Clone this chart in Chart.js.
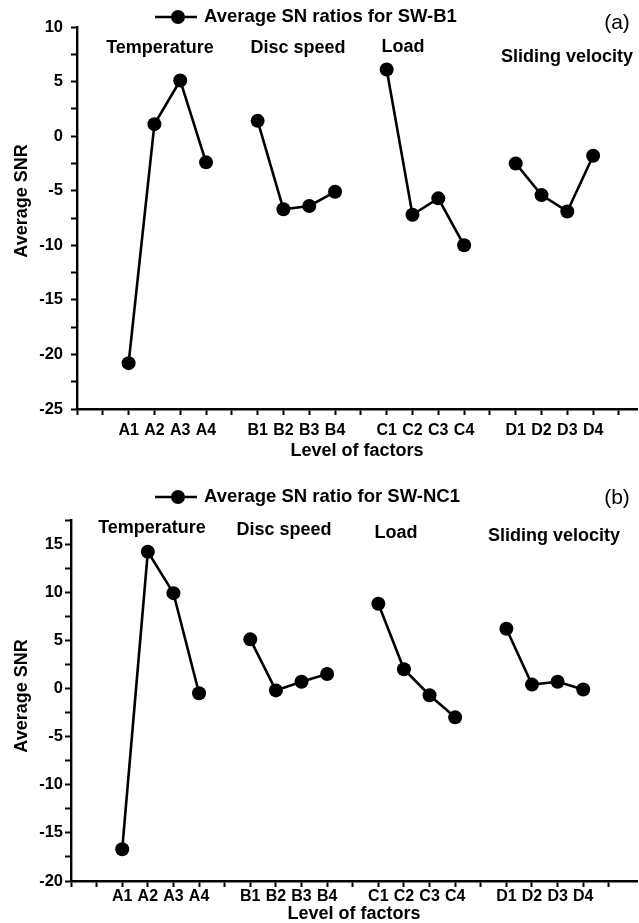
<!DOCTYPE html>
<html>
<head>
<meta charset="utf-8">
<script src="https://cdn.jsdelivr.net/npm/chart.js@4.4.1/dist/chart.umd.min.js"></script>
<style>
  html, body { margin: 0; padding: 0; background: #fff; }
  .panel { position: absolute; left: 0; width: 639px; }
  #panel-a { top: 0; height: 460px; }
  #panel-b { top: 460px; height: 463px; }
</style>
</head>
<body>
<div class="panel" id="panel-a"><canvas id="chart-a"></canvas></div>
<div class="panel" id="panel-b"><canvas id="chart-b"></canvas></div>
<script>
const factors = ['Temperature', 'Disc speed', 'Load', 'Sliding velocity'];
const levels = [
    ['A1', 'A2', 'A3', 'A4'],
    ['B1', 'B2', 'B3', 'B4'],
    ['C1', 'C2', 'C3', 'C4'],
    ['D1', 'D2', 'D3', 'D4']
];

// average SN ratio of every level, one row per factor
const snrB1 = [
    [-20.8, 1.1, 5.1, -2.4],
    [1.4, -6.7, -6.4, -5.1],
    [6.1, -7.2, -5.7, -10.0],
    [-2.5, -5.4, -6.9, -1.8]
];
const snrNC1 = [
    [-16.7, 14.2, 9.9, -0.5],
    [5.1, -0.2, 0.7, 1.5],
    [8.8, 2.0, -0.7, -3.0],
    [6.2, 0.4, 0.7, -0.1]
];

const yTicksB1 = [-25, -20, -15, -10, -5, 0, 5, 10];
const yTicksNC1 = [-20, -15, -10, -5, 0, 5, 10, 15];

const FONT = '"Liberation Sans", Arial, sans-serif';

// each factor gets 4 slots on the x axis, one empty slot between factors
const slot = (g, i) => g * 5 + i + 2;
const slotLabels = new Array(22).fill('');
levels.forEach((lv, g) => lv.forEach((l, i) => { slotLabels[slot(g, i)] = l; }));

const panelText = {
    id: 'panelText',
    afterDraw(chart, args, opts) {
        const ctx = chart.ctx;
        ctx.save();
        ctx.fillStyle = '#000';
        ctx.strokeStyle = '#000';
        const lg = opts.legend;
        ctx.lineWidth = 2.6;
        ctx.beginPath();
        ctx.moveTo(lg.x, lg.y);
        ctx.lineTo(lg.x + 42, lg.y);
        ctx.stroke();
        ctx.beginPath();
        ctx.arc(lg.x + 23, lg.y, 7, 0, Math.PI * 2);
        ctx.fill();
        ctx.textBaseline = 'middle';
        ctx.textAlign = 'left';
        ctx.font = 'bold 18.5px ' + FONT;
        ctx.fillText(lg.text, lg.x + 49, lg.y);

        ctx.textAlign = 'center';
        ctx.font = 'bold 18px ' + FONT;
        opts.groups.forEach((p, g) => ctx.fillText(factors[g], p[0], p[1]));

        ctx.font = '21px ' + FONT;
        ctx.fillText(opts.letter.text, opts.letter.x, opts.letter.y);

        // y axis title
        ctx.font = 'bold 18px ' + FONT;
        ctx.translate(opts.yTitle.x, opts.yTitle.y);
        ctx.rotate(-Math.PI / 2);
        ctx.fillText('Average SNR', 0, 0);
        ctx.restore();
    }
};

function makeChart(id, values, yTicks, label, cfg) {
    const datasets = values.map((row, g) => ({
        label: label,
        data: row.map((v, i) => ({ x: slot(g, i), y: v })),
        borderColor: '#000',
        backgroundColor: '#000',
        borderWidth: 2.6,
        pointRadius: 7,
        pointHoverRadius: 7,
        pointBackgroundColor: '#000',
        pointBorderColor: '#000',
        pointBorderWidth: 0,
        tension: 0,
        clip: false
    }));

    return new Chart(document.getElementById(id), {
        type: 'line',
        data: { datasets: datasets },
        plugins: [panelText],
        options: {
            responsive: true,
            maintainAspectRatio: false,
            animation: false,
            layout: { autoPadding: false, padding: { top: cfg.top, right: 2, left: 0, bottom: 0 } },
            plugins: {
                legend: { display: false },
                tooltip: { enabled: false },
                panelText: cfg.text
            },
            scales: {
                x: {
                    type: 'linear',
                    min: 0,
                    max: cfg.xMax,
                    afterBuildTicks: (s) => { s.ticks = slotLabels.map((_, i) => ({ value: i })); },
                    afterFit: (s) => {
                        s.height = cfg.xHeight;
                        s.paddingLeft = 0;
                        s.paddingRight = 0;
                    },
                    grid: { drawOnChartArea: false, tickLength: 6, tickWidth: 2, tickColor: '#000' },
                    border: { color: '#000', width: 2.4 },
                    ticks: {
                        autoSkip: false,
                        maxRotation: 0,
                        padding: cfg.xPad,
                        color: '#000',
                        font: { family: FONT, size: 16, weight: 'bold' },
                        callback: (v) => slotLabels[v] || ''
                    },
                    title: {
                        display: true,
                        text: 'Level of factors',
                        color: '#000',
                        font: { family: FONT, size: 18, weight: 'bold', lineHeight: 1 },
                        padding: { top: 0, bottom: 0 }
                    }
                },
                y: {
                    min: yTicks[0],
                    max: cfg.yMax,
                    afterBuildTicks: (s) => {
                        const t = [];
                        yTicks.forEach((v) => {
                            t.push({ value: v });
                            const half = v + (yTicks[1] - yTicks[0]) / 2;
                            if (half <= cfg.yMax) t.push({ value: half });
                        });
                        s.ticks = t;
                    },
                    afterFit: (s) => { s.width = cfg.yWidth; },
                    grid: { drawOnChartArea: false, tickLength: 6, tickWidth: 2, tickColor: '#000' },
                    border: { color: '#000', width: 2.4 },
                    ticks: {
                        autoSkip: false,
                        padding: cfg.yPad,
                        color: '#000',
                        font: { family: FONT, size: 16.5, weight: 'bold' },
                        callback: (v) => yTicks.includes(v) ? String(v) : ''
                    },
                    title: { display: false }
                }
            }
        }
    });
}

makeChart('chart-a', snrB1, yTicksB1, 'Average SN ratios for SW-B1', {
    top: 27, xMax: 21.7, yMax: 10, xHeight: 51, yWidth: 77, xPad: 6, yPad: 8,
    text: {
        legend: { x: 155, y: 17, text: 'Average SN ratios for SW-B1' },
        groups: [[160, 48], [298, 48], [403, 47], [567, 57]],
        letter: { x: 617, y: 23, text: '(a)' },
        yTitle: { x: 22, y: 201 }
    }
});

makeChart('chart-b', snrNC1, yTicksNC1, 'Average SN ratio for SW-NC1', {
    top: 60, xMax: 22.1, yMax: 17.5, xHeight: 42, yWidth: 71, xPad: 0, yPad: 2,
    text: {
        legend: { x: 155, y: 37, text: 'Average SN ratio for SW-NC1' },
        groups: [[152, 68], [284, 70], [396, 73], [554, 76]],
        letter: { x: 617, y: 38, text: '(b)' },
        yTitle: { x: 22, y: 236 }
    }
});
</script>
</body>
</html>
